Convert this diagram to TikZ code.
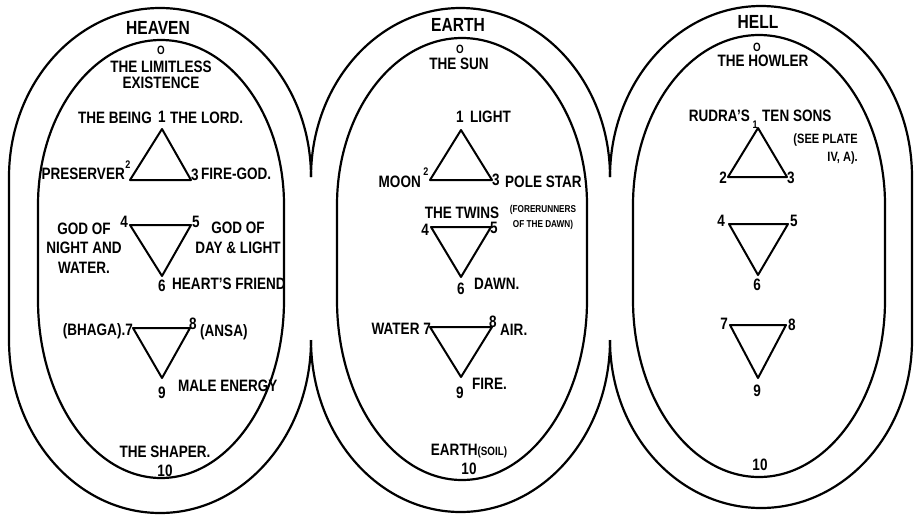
\documentclass[tikz,border=0pt]{standalone}
\usepackage{fontspec}
\setmainfont{Liberation Sans}[FakeStretch=0.82]
\usetikzlibrary{positioning}

\begin{document}
\begin{tikzpicture}[
    x=1pt, y=1pt,
    lab/.style={font=\fontsize{16.5}{18}\selectfont\bfseries, inner sep=0pt, text height=11.8pt, text depth=0pt},
    blk/.style={font=\fontsize{16.5}{19.5}\selectfont\bfseries, inner sep=0pt, align=center},
    tiny/.style={font=\fontsize{10}{11}\selectfont\bfseries, inner sep=0pt, text height=7.2pt, text depth=0pt},
    sup/.style={font=\fontsize{11}{11}\selectfont\bfseries, inner sep=0pt},
    zero/.style={font=\fontsize{12}{12}\selectfont\bfseries, inner sep=0pt},
    title/.style={font=\fontsize{19}{20}\selectfont\bfseries, inner sep=0pt},
    rim/.style={line width=2.2pt},
    tri/.style={line width=2pt, line join=round}
]
    \useasboundingbox (0,0) rectangle (917,-515);

    % Outer rims (they meet in cusps)
    \draw[rim] (311,-177) arc[start angle=0, end angle=180, x radius=151, y radius=169]
        -- (9,-340) arc[start angle=180, end angle=360, x radius=151, y radius=173];
    \draw[rim] (311,-177) arc[start angle=180, end angle=0, x radius=149.5, y radius=169];
    \draw[rim] (311,-340) arc[start angle=180, end angle=360, x radius=149.5, y radius=172];
    \draw[rim] (610,-177) arc[start angle=180, end angle=0, x radius=151, y radius=171]
        -- (912,-340) arc[start angle=0, end angle=-180, x radius=151, y radius=168];

    % Inner ovals
    \draw[rim] (284,-205) arc[start angle=0, end angle=180, x radius=123, y radius=165]
        -- (38,-300) arc[start angle=180, end angle=360, x radius=123, y radius=178] -- cycle;
    \draw[rim] (587,-205) arc[start angle=0, end angle=180, x radius=125, y radius=167]
        -- (337,-300) arc[start angle=180, end angle=360, x radius=125, y radius=180] -- cycle;
    \draw[rim] (885,-205) arc[start angle=0, end angle=180, x radius=126, y radius=170]
        -- (633,-300) arc[start angle=180, end angle=360, x radius=126, y radius=177] -- cycle;

    % Titles
    \node[title] (heaven) at (158,-28) {HEAVEN};
    \node[title] (earth) at (458,-25) {EARTH};
    \node[title] (hell) at (758,-22) {HELL};

    % ---- Heaven ----
    \node[zero] (hv0) at (161,-50) {O};
    \node[lab] (hvlim) at (161,-67) {THE LIMITLESS};
    \node[lab, below=3.5pt of hvlim] (hvexi) {EXISTENCE};

    \coordinate (hv1) at (162,-129);
    \coordinate (hv2) at (130,-180);
    \coordinate (hv3) at (191,-180);
    \draw[tri] (hv1) -- (hv2) -- (hv3) -- cycle;
    \node[lab] (hvn1) at (162,-117) {1};
    \node[lab, anchor=east] (hvbeing) at (152,-118) {THE BEING};
    \node[lab, anchor=west] (hvlord) at (170,-118) {THE LORD.};
    \node[sup] (hvn2) at (128,-165) {2};
    \node[lab, anchor=east] (hvpres) at (125,-174) {PRESERVER};
    \node[lab, anchor=west] (hvn3) at (191,-175) {3};
    \node[lab, anchor=west] (hvfire) at (201,-174) {FIRE-GOD.};

    \coordinate (hv4) at (130,-225);
    \coordinate (hv5) at (191,-225);
    \coordinate (hv6) at (162,-276);
    \draw[tri] (hv4) -- (hv5) -- (hv6) -- cycle;
    \node[lab, anchor=east] (hvn4) at (128,-222) {4};
    \node[blk] (hvnight) at (84,-248) {GOD OF\\NIGHT AND\\WATER.};
    \node[lab, anchor=west] (hvn5) at (192,-222) {5};
    \node[blk] (hvday) at (238,-238) {GOD OF\\DAY \& LIGHT};
    \node[lab] (hvn6) at (162,-286) {6};
    \node[lab, anchor=west] (hvheart) at (172,-284) {HEART'S FRIEND};

    \coordinate (hv7) at (133,-328);
    \coordinate (hv8) at (190,-328);
    \coordinate (hv9) at (162,-378);
    \draw[tri] (hv7) -- (hv8) -- (hv9) -- cycle;
    \node[lab, anchor=east] (hvbhaga) at (133,-330) {(BHAGA).7};
    \node[lab, anchor=west] (hvn8) at (189,-324) {8};
    \node[lab, anchor=west] (hvansa) at (200,-331) {(ANSA)};
    \node[lab] (hvn9) at (162,-393) {9};
    \node[lab, anchor=west] (hvmale) at (178,-386) {MALE ENERGY};

    \node[lab] (hvshaper) at (165,-452) {THE SHAPER.};
    \node[lab, below=6pt of hvshaper] (hvn10) {10};

    % ---- Earth ----
    \node[zero] (ea0) at (460,-49) {O};
    \node[lab] (easun) at (459,-64) {THE SUN};

    \coordinate (ea1) at (461,-130);
    \coordinate (ea2) at (430,-180);
    \coordinate (ea3) at (492,-180);
    \draw[tri] (ea1) -- (ea2) -- (ea3) -- cycle;
    \node[lab] (ean1) at (460,-117) {1};
    \node[lab, anchor=west] (ealight) at (470,-117) {LIGHT};
    \node[sup] (ean2) at (426,-172) {2};
    \node[lab, anchor=east] (eamoon) at (421,-182) {MOON};
    \node[lab, anchor=west] (ean3) at (492,-180) {3};
    \node[lab, anchor=west] (eapole) at (505,-182) {POLE STAR};

    \node[lab] (eatwins) at (462,-213) {THE TWINS};
    \node[tiny] (eafore) at (543,-209) {(FORERUNNERS};
    \node[tiny, below=7.5pt of eafore] (eadawnof) {OF THE DAWN)};
    \coordinate (ea4) at (431,-227);
    \coordinate (ea5) at (491,-227);
    \coordinate (ea6) at (461,-277);
    \draw[tri] (ea4) -- (ea5) -- (ea6) -- cycle;
    \node[lab, anchor=east] (ean4) at (429,-230) {4};
    \node[lab, anchor=west] (ean5) at (490,-228) {5};
    \node[lab] (ean6) at (461,-289) {6};
    \node[lab, anchor=west] (eadawn) at (474,-284) {DAWN.};

    \coordinate (ea7) at (430,-327);
    \coordinate (ea8) at (492,-327);
    \coordinate (ea9) at (461,-377);
    \draw[tri] (ea7) -- (ea8) -- (ea9) -- cycle;
    \node[lab, anchor=east] (eawater) at (431,-329) {WATER 7};
    \node[lab, anchor=west] (ean8) at (489,-322) {8};
    \node[lab, anchor=west] (eaair) at (500,-330) {AIR.};
    \node[lab] (ean9) at (460,-393) {9};
    \node[lab, anchor=west] (eafirep) at (472,-384) {FIRE.};

    \node[lab] (easoil) at (469,-450) {EARTH{\fontsize{12}{12}\selectfont(SOIL)}};
    \node[lab, below=6pt of easoil] (ean10) {10};

    % ---- Hell ----
    \node[zero] (hl0) at (757,-47) {O};
    \node[lab] (hlhowl) at (763,-61) {THE HOWLER};

    \coordinate (hl1) at (758,-128);
    \coordinate (hl2) at (728,-177);
    \coordinate (hl3) at (787,-177);
    \draw[tri] (hl1) -- (hl2) -- (hl3) -- cycle;
    \node[lab, anchor=east] (hlrudra) at (750,-116) {RUDRA'S};
    \node[sup] (hln1) at (755,-125) {1};
    \node[lab, anchor=west] (hlsons) at (762,-116) {TEN SONS};
    \node[font=\fontsize{13.5}{18}\selectfont\bfseries, inner sep=0pt, align=right, anchor=east] (hlplate) at (858,-149) {(SEE PLATE\\IV, A).};
    \node[lab, anchor=east] (hln2) at (727,-178) {2};
    \node[lab, anchor=west] (hln3) at (787,-178) {3};

    \coordinate (hl4) at (729,-224);
    \coordinate (hl5) at (788,-224);
    \coordinate (hl6) at (758,-275);
    \draw[tri] (hl4) -- (hl5) -- (hl6) -- cycle;
    \node[lab, anchor=east] (hln4) at (725,-221) {4};
    \node[lab, anchor=west] (hln5) at (790,-221) {5};
    \node[lab] (hln6) at (757,-285) {6};

    \coordinate (hl7) at (730,-325);
    \coordinate (hl8) at (786,-325);
    \coordinate (hl9) at (758,-378);
    \draw[tri] (hl7) -- (hl8) -- (hl9) -- cycle;
    \node[lab, anchor=east] (hln7) at (728,-324) {7};
    \node[lab, anchor=west] (hln8) at (788,-325) {8};
    \node[lab] (hln9) at (757,-391) {9};

    \node[lab] (hln10) at (760,-465) {10};
\end{tikzpicture}
\end{document}
